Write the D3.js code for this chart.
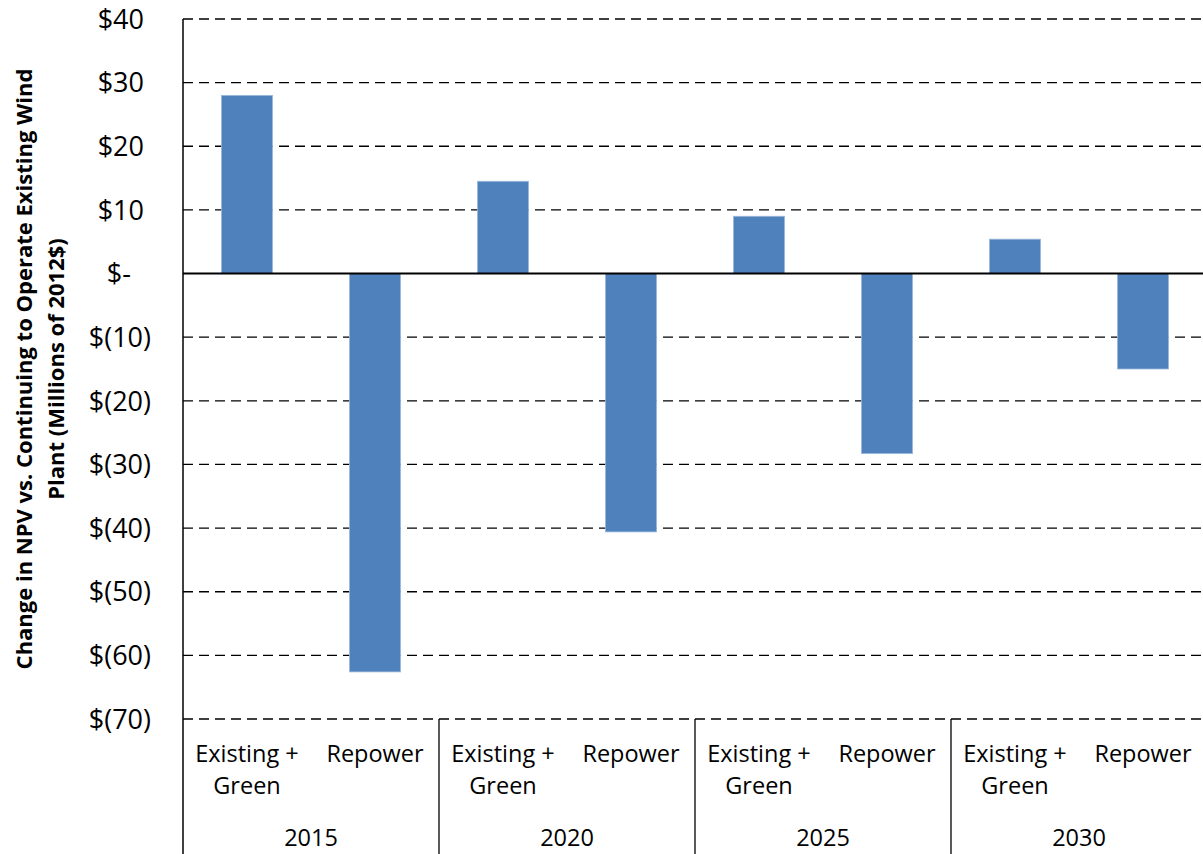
<!DOCTYPE html>
<html><head><meta charset="utf-8">
<script src="https://cdn.jsdelivr.net/npm/d3@7"></script>
<style>body{margin:0;background:#fff}svg{display:block}text{font-family:"Open Sans","Noto Sans",sans-serif}</style>
</head><body>
<svg id="c" width="1203" height="854"></svg>
<script>
const years = ["2015","2020","2025","2030"];
const scenarios = ["Existing + Green","Repower"];
const values = [
  [28.0, -62.6],
  [14.5, -40.6],
  [9.0, -28.3],
  [5.4, -15.0]
];
const yTicks = [40,30,20,10,0,-10,-20,-30,-40,-50,-60,-70];
const yTickLabels = ["$40","$30","$20","$10","$-","$(10)","$(20)","$(30)","$(40)","$(50)","$(60)","$(70)"];
const yTitle = ["Change in NPV vs. Continuing to Operate Existing Wind","Plant (Millions of 2012$)"];

(function(){
const svg = d3.select("#c");
const pL = 183, pR = 1207, pT = 19, pB = 719;
const y = d3.scaleLinear().domain([-70,40]).range([pB, pT]);
const gx = d3.scaleBand().domain(years).range([pL, pR]);
const sx = d3.scaleBand().domain(scenarios).range([0, gx.bandwidth()]);
const barW = sx.bandwidth()*0.4;

svg.append("g").selectAll("line").data(yTicks.filter(d=>d!==0)).join("line")
  .attr("x1", pL).attr("x2", pR).attr("y1", d=>y(d)).attr("y2", d=>y(d))
  .attr("stroke","#000").attr("stroke-width",1.3).attr("stroke-dasharray","10,6");

const flat = [];
years.forEach((yr,i)=>scenarios.forEach((s,j)=>flat.push({yr,s,v:values[i][j]})));
svg.append("g").selectAll("rect").data(flat).join("rect")
  .attr("x", d=>gx(d.yr)+sx(d.s)+(sx.bandwidth()-barW)/2)
  .attr("width", barW)
  .attr("y", d=>y(Math.max(0,d.v)))
  .attr("height", d=>Math.abs(y(d.v)-y(0)))
  .attr("fill","#4F81BD").attr("stroke","#9DB9DD").attr("stroke-width",0.8);

svg.append("line").attr("x1",pL).attr("x2",pR).attr("y1",y(0)).attr("y2",y(0))
  .attr("stroke","#000").attr("stroke-width",2);
svg.append("line").attr("x1",pL).attr("x2",pL).attr("y1",pT).attr("y2",854)
  .attr("stroke","#000").attr("stroke-width",1.5);
svg.append("g").selectAll("line").data(years.slice(1)).join("line")
  .attr("x1",d=>gx(d)).attr("x2",d=>gx(d)).attr("y1",pB).attr("y2",854)
  .attr("stroke","#000").attr("stroke-width",1.3);

// accounting-style alignment: positives leave room for ")", zero leaves more
svg.append("g").selectAll("text").data(yTicks).join("text")
  .attr("x",151).attr("y",d=>y(d)).attr("dy","0.36em").attr("text-anchor","end")
  .attr("dx", d=> d>0 ? -7 : d===0 ? -20 : 0)
  .attr("font-size",27).attr("fill","#000")
  .text((d,i)=>yTickLabels[i]);

flat.forEach(d=>{
  const cx = gx(d.yr)+sx(d.s)+sx.bandwidth()/2;
  const t = svg.append("text").attr("text-anchor","middle").attr("font-size",23.5).attr("fill","#000");
  if(d.s==="Existing + Green"){
    t.append("tspan").attr("x",cx).attr("y",762).text("Existing +");
    t.append("tspan").attr("x",cx).attr("y",794).text("Green");
  } else {
    t.append("tspan").attr("x",cx).attr("y",762).text(d.s);
  }
});
svg.append("g").selectAll("text").data(years).join("text")
  .attr("x",d=>gx(d)+gx.bandwidth()/2).attr("y",846).attr("text-anchor","middle")
  .attr("font-size",23.5).attr("fill","#000").text(d=>d);

const cy = 369;
const tt = svg.append("text").attr("transform",`translate(0,${cy}) rotate(-90)`)
  .attr("text-anchor","middle").attr("font-size",22).attr("font-weight","bold").attr("fill","#000");
tt.append("tspan").attr("x",0).attr("y",32).text(yTitle[0]);
tt.append("tspan").attr("x",0).attr("y",64).text(yTitle[1]);
})();
</script>
</body></html>
